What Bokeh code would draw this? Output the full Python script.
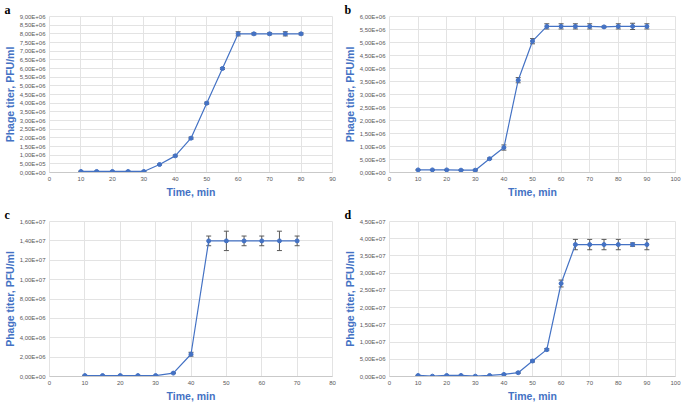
from bokeh.plotting import figure
from bokeh.layouts import gridplot
from bokeh.models import ColumnDataSource, Whisker, TeeHead, FixedTicker, Range1d
from bokeh.embed import file_html
from bokeh.resources import INLINE

# ---------------- data ----------------
a_time = [10, 15, 20, 25, 30, 35, 40, 45, 50, 55, 60, 65, 70, 75, 80]
a_titer = [6e4, 6e4, 6e4, 6e4, 6e4, 4.6e5, 9.6e5, 1.98e6, 4.0e6, 6.0e6, 8.0e6, 8.0e6, 8.0e6, 8.0e6, 8.0e6]
a_err = [2e4, 2e4, 2e4, 2e4, 2e4, 3e4, 5e4, 6e4, 6e4, 6e4, 1.2e5, 6e4, 6e4, 1.2e5, 6e4]
a_xticks = [0, 10, 20, 30, 40, 50, 60, 70, 80, 90]
a_yticks = [0, 5e5, 1e6, 1.5e6, 2e6, 2.5e6, 3e6, 3.5e6, 4e6, 4.5e6, 5e6, 5.5e6, 6e6, 6.5e6, 7e6, 7.5e6, 8e6, 8.5e6, 9e6]

b_time = [10, 15, 20, 25, 30, 35, 40, 45, 50, 55, 60, 65, 70, 75, 80, 85, 90]
b_titer = [1e5, 1e5, 1e5, 9e4, 9e4, 5.3e5, 9.6e5, 3.55e6, 5.05e6, 5.62e6, 5.62e6, 5.62e6, 5.62e6, 5.6e6, 5.62e6, 5.62e6, 5.62e6]
b_err = [2e4, 2e4, 2e4, 2e4, 3e4, 3e4, 1e5, 1e5, 1e5, 1e5, 1e5, 1e5, 1e5, 3e4, 1e5, 1.2e5, 1e5]
b_xticks = [0, 10, 20, 30, 40, 50, 60, 70, 80, 90, 100]
b_yticks = [0, 5e5, 1e6, 1.5e6, 2e6, 2.5e6, 3e6, 3.5e6, 4e6, 4.5e6, 5e6, 5.5e6, 6e6]

c_time = [10, 15, 20, 25, 30, 35, 40, 45, 50, 55, 60, 65, 70]
c_titer = [1e5, 1e5, 1e5, 1e5, 1e5, 3.5e5, 2.3e6, 1.4e7, 1.4e7, 1.4e7, 1.4e7, 1.4e7, 1.4e7]
c_err = [3e4, 3e4, 3e4, 3e4, 3e4, 5e4, 2e5, 5e5, 1e6, 5e5, 5e5, 1e6, 5e5]
c_xticks = [0, 10, 20, 30, 40, 50, 60, 70, 80]
c_yticks = [0, 2e6, 4e6, 6e6, 8e6, 1e7, 1.2e7, 1.4e7, 1.6e7]

d_time = [10, 15, 20, 25, 30, 35, 40, 45, 50, 55, 60, 65, 70, 75, 80, 85, 90]
d_titer = [3e5, 1e5, 3e5, 3e5, 1e5, 3e5, 6e5, 1.1e6, 4.5e6, 7.8e6, 2.7e7, 3.83e7, 3.83e7, 3.83e7, 3.83e7, 3.83e7, 3.83e7]
d_err = [5e4, 5e4, 5e4, 5e4, 5e4, 5e4, 1e5, 2e5, 3e5, 3e5, 1e6, 1.5e6, 1.5e6, 1.5e6, 1.5e6, 5e5, 1.5e6]
d_xticks = [0, 10, 20, 30, 40, 50, 60, 70, 80, 90, 100]
d_yticks = [0, 5e6, 1e7, 1.5e7, 2e7, 2.5e7, 3e7, 3.5e7, 4e7, 4.5e7]

panel_labels = ["a", "b", "c", "d"]
x_label = "Time, min"
y_label = "Phage titer, PFU/ml"

BLUE = "#4472C4"
GRID = "#e3e3e3"
TICK = "#595959"
ERR = "#595959"


def sci(v):
    return ("%.2E" % v).replace(".", ",")


def panel(letter, t, y, e, xticks, yticks, w, h, top, right):
    p = figure(width=w, height=h, output_backend="svg", toolbar_location=None,
               x_range=Range1d(xticks[0], xticks[-1]), y_range=Range1d(yticks[0], yticks[-1]),
               title=letter, min_border_top=top, min_border_bottom=0,
               min_border_left=0, min_border_right=right)
    p.title.text_font = "Liberation Serif"
    p.title.text_font_size = "12px"
    p.title.text_font_style = "bold"
    p.title.text_color = "black"
    p.title.align = "left"
    p.title.offset = -45
    p.title.standoff = 0

    p.xaxis.ticker = FixedTicker(ticks=xticks)
    p.yaxis.ticker = FixedTicker(ticks=yticks)
    p.yaxis.major_label_overrides = {v: sci(v) for v in yticks}
    for ax in (p.xaxis, p.yaxis):
        ax.major_label_text_font = "Liberation Sans"
        ax.major_label_text_font_size = "6px"
        ax.major_label_text_color = TICK
        ax.major_tick_line_color = None
        ax.minor_tick_line_color = None
        ax.major_tick_out = 0
        ax.major_tick_in = 0
        ax.minor_tick_out = 0
        ax.minor_tick_in = 0
        ax.axis_label_text_font = "Liberation Sans"
        ax.axis_label_text_font_size = "10.5px"
        ax.axis_label_text_font_style = "bold"
        ax.axis_label_text_color = BLUE
        ax.major_label_standoff = 4
        ax.axis_label_standoff = 1
    p.xaxis.major_label_standoff = 4
    p.xaxis.axis_label_standoff = 2
    p.yaxis.axis_line_color = None
    p.xaxis.axis_line_color = "#c9c9c9"
    p.xaxis.axis_label = x_label
    p.yaxis.axis_label = y_label
    p.xgrid.grid_line_color = GRID
    p.ygrid.grid_line_color = GRID
    p.outline_line_color = GRID

    src = ColumnDataSource(dict(t=t, y=y,
                                lo=[a - b for a, b in zip(y, e)],
                                hi=[a + b for a, b in zip(y, e)]))
    p.line("t", "y", source=src, line_color=BLUE, line_width=1.2)
    p.scatter("t", "y", source=src, size=4, marker="circle", color=BLUE)
    wk = Whisker(base="t", lower="lo", upper="hi", source=src, line_color=ERR, line_width=1,
                 upper_head=TeeHead(size=5, line_color=ERR, line_width=1),
                 lower_head=TeeHead(size=5, line_color=ERR, line_width=1))
    p.add_layout(wk)
    return p


pa = panel(panel_labels[0], a_time, a_titer, a_err, a_xticks, a_yticks, 340, 200, 15, 7)
pb = panel(panel_labels[1], b_time, b_titer, b_err, b_xticks, b_yticks, 345, 200, 15, 9)
pc = panel(panel_labels[2], c_time, c_titer, c_err, c_xticks, c_yticks, 340, 204, 21, 8)
pd_ = panel(panel_labels[3], d_time, d_titer, d_err, d_xticks, d_yticks, 345, 204, 21, 10)

layout = gridplot([[pa, pb], [pc, pd_]], toolbar_location=None)

open("out.html", "w").write(file_html(layout, INLINE))
